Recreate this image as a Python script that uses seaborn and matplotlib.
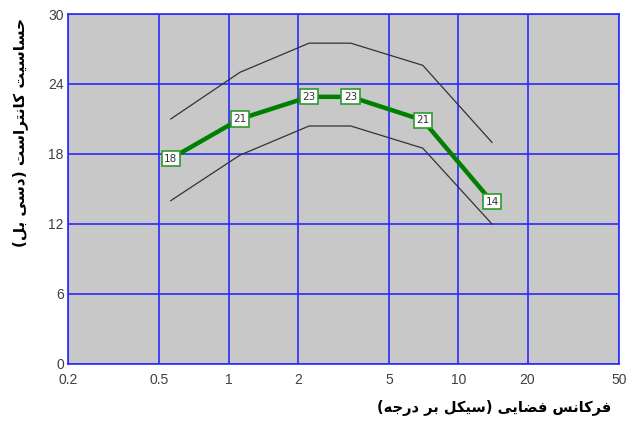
import numpy as np
import pandas as pd
import matplotlib
matplotlib.use("Agg")
import matplotlib.pyplot as plt
import seaborn as sns

# data
freq = [0.56, 1.12, 2.24, 3.4, 7.0, 14.0]
sens = [17.6, 21.0, 22.9, 22.9, 20.9, 13.9]
upper = [21.0, 25.0, 27.5, 27.5, 25.6, 19.0]
lower = [14.0, 17.9, 20.4, 20.4, 18.5, 12.0]
point_labels = ["18", "21", "23", "23", "21", "14"]
x_ticks = [0.2, 0.5, 1, 2, 5, 10, 20, 50]
x_ticklabels = ["0.2", "0.5", "1", "2", "5", "10", "20", "50"]
y_ticks = [0, 6, 12, 18, 24, 30]
y_label = "حساسیت کانتراست (دسی بل)"
x_label = "فرکانس فضایی (سیکل بر درجه)"

# minimal persian shaping (matplotlib has no complex text layout)
FORMS = {
    "ا": ("\uFE8D", "\uFE8E", None, None),
    "ب": ("\uFE8F", "\uFE90", "\uFE91", "\uFE92"),
    "ت": ("\uFE95", "\uFE96", "\uFE97", "\uFE98"),
    "ج": ("\uFE9D", "\uFE9E", "\uFE9F", "\uFEA0"),
    "ح": ("\uFEA1", "\uFEA2", "\uFEA3", "\uFEA4"),
    "د": ("\uFEA9", "\uFEAA", None, None),
    "ر": ("\uFEAD", "\uFEAE", None, None),
    "س": ("\uFEB1", "\uFEB2", "\uFEB3", "\uFEB4"),
    "ض": ("\uFEBD", "\uFEBE", "\uFEBF", "\uFEC0"),
    "ف": ("\uFED1", "\uFED2", "\uFED3", "\uFED4"),
    "ل": ("\uFEDD", "\uFEDE", "\uFEDF", "\uFEE0"),
    "ن": ("\uFEE5", "\uFEE6", "\uFEE7", "\uFEE8"),
    "ه": ("\uFEE9", "\uFEEA", "\uFEEB", "\uFEEC"),
    "ی": ("\uFBFC", "\uFBFD", "\uFBFE", "\uFBFF"),
    "ک": ("\uFB8E", "\uFB8F", "\uFB90", "\uFB91"),
}


def shape(s):
    out = []
    for i, c in enumerate(s):
        if c not in FORMS:
            out.append(c)
            continue
        prev = s[i - 1] if i > 0 else ""
        nxt = s[i + 1] if i + 1 < len(s) else ""
        join_prev = prev in FORMS and FORMS[prev][2] is not None
        join_next = nxt in FORMS and FORMS[c][2] is not None
        iso, fin, ini, med = FORMS[c]
        if join_prev and join_next:
            out.append(med)
        elif join_prev:
            out.append(fin)
        elif join_next:
            out.append(ini)
        else:
            out.append(iso)
    vis = "".join(reversed(out))
    return vis.translate(str.maketrans("()", ")("))


df = pd.DataFrame({"freq": freq, "sens": sens, "upper": upper, "lower": lower})

fig = plt.figure(figsize=(6.26, 4.23), dpi=100)
ax = fig.add_axes([0.1086, 0.1395, 0.8802, 0.8274])
ax.set_facecolor("#c8c8c8")

sns.lineplot(data=df, x="freq", y="upper", ax=ax, color="#333333", lw=0.9)
sns.lineplot(data=df, x="freq", y="lower", ax=ax, color="#333333", lw=0.9)
sns.lineplot(data=df, x="freq", y="sens", ax=ax, color="#008000", lw=3.2)

for xv, yv, t in zip(freq, sens, point_labels):
    ax.text(xv, yv, t, ha="center", va="center", fontsize=7.5, color="#333333",
            bbox=dict(boxstyle="square,pad=0.25", fc="white", ec="#2e9a2e", lw=1.2))

ax.set_xscale("log")
ax.set_xlim(0.2, 50)
ax.set_ylim(0, 30)
ax.set_xticks(x_ticks)
ax.set_xticklabels(x_ticklabels)
ax.minorticks_off()
ax.set_yticks(y_ticks)
ax.grid(True, color="#2a2aff", lw=1.2)
ax.set_axisbelow(True)
for sp in ax.spines.values():
    sp.set_color("#2a2aff")
    sp.set_linewidth(1.2)
ax.tick_params(length=0, labelsize=10, labelcolor="#404040")
ax.tick_params(axis="x", pad=6.5)
ax.tick_params(axis="y", pad=3)
for lab in ax.get_xticklabels() + ax.get_yticklabels():
    lab.set_family("Liberation Sans")
ax.set_xlabel("")
ax.set_ylabel("")

fig.text(0.032, 0.686, shape(y_label), rotation=90, ha="center", va="center",
         fontsize=11, fontweight="bold", family="DejaVu Sans")
fig.text(0.789, 0.036, shape(x_label), ha="center", va="center",
         fontsize=10.5, fontweight="bold", family="DejaVu Sans")

fig.savefig("out.png", dpi=100)
